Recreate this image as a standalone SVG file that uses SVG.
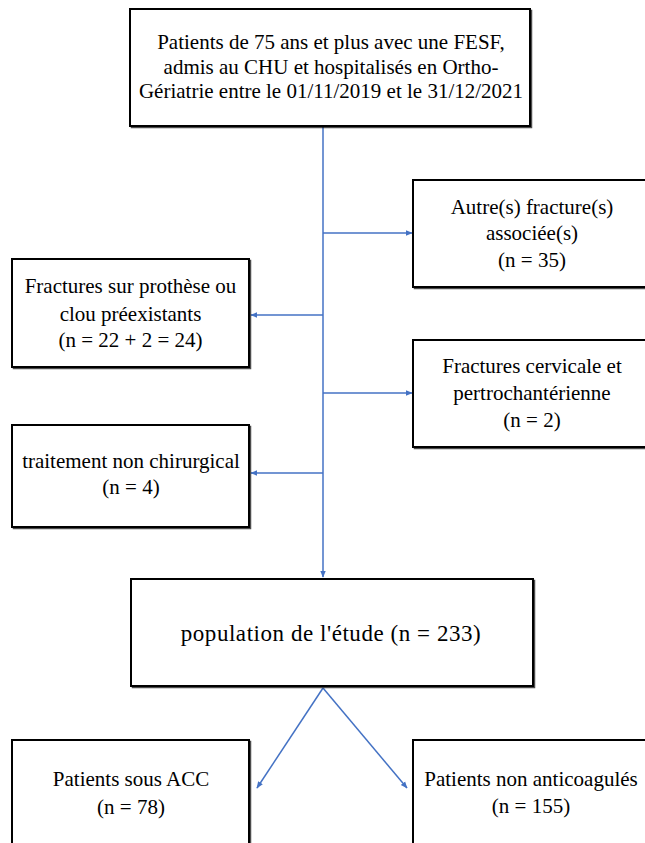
<svg xmlns="http://www.w3.org/2000/svg" width="645" height="843" viewBox="0 0 645 843">
<defs>
<style>
.box{fill:#fff;stroke:#000;stroke-width:2}
.shadow{fill:none;stroke:#000;stroke-width:1.5;opacity:0.7}
.t{font-family:'Liberation Serif','Times New Roman','DejaVu Serif',serif;font-size:21px;fill:#000;text-anchor:middle}
.c{stroke:#4472C4;stroke-width:1.5;fill:none}
</style>
<marker id="ah" viewBox="0 0 10 10" refX="9" refY="5" markerWidth="7" markerHeight="7" orient="auto" markerUnits="userSpaceOnUse">
<path d="M0,1 L10,5 L0,9 z" fill="#4472C4"/>
</marker>
</defs>
<rect width="645" height="843" fill="#fff"/>
<g id="connectors">
<line class="c" x1="323" y1="127" x2="323" y2="577" marker-end="url(#ah)"/>
<line class="c" x1="323" y1="233" x2="412" y2="233" marker-end="url(#ah)"/>
<line class="c" x1="323" y1="315" x2="251" y2="315" marker-end="url(#ah)"/>
<line class="c" x1="323" y1="393" x2="412" y2="393" marker-end="url(#ah)"/>
<line class="c" x1="323" y1="473" x2="251" y2="473" marker-end="url(#ah)"/>
<line class="c" x1="323" y1="688" x2="257" y2="788" marker-end="url(#ah)"/>
<line class="c" x1="323" y1="688" x2="407" y2="788" marker-end="url(#ah)"/>
</g>
<g id="n-top">
<rect class="shadow" x="131.5" y="10.5" width="400" height="117"/>
<rect class="box" x="130" y="9" width="400" height="117"/>
<text class="t" x="331" y="49">Patients de 75 ans et plus avec une FESF,</text>
<text class="t" x="331" y="74">admis au CHU et hospitalisés en Ortho-</text>
<text class="t" x="331" y="98">Gériatrie entre le 01/11/2019 et le 31/12/2021</text>
</g>
<g id="n-autre">
<rect class="shadow" x="414.5" y="181.5" width="240" height="107"/>
<rect class="box" x="413" y="180" width="240" height="107"/>
<text class="t" x="532" y="214">Autre(s) fracture(s)</text>
<text class="t" x="532" y="240">associée(s)</text>
<text class="t" x="532" y="267">(n = 35)</text>
</g>
<g id="n-prothese">
<rect class="shadow" x="13.5" y="260.5" width="237" height="108"/>
<rect class="box" x="12" y="259" width="237" height="108"/>
<text class="t" x="130.5" y="293">Fractures sur prothèse ou</text>
<text class="t" x="130.5" y="321">clou préexistants</text>
<text class="t" x="130.5" y="347">(n = 22 + 2 = 24)</text>
</g>
<g id="n-cervicale">
<rect class="shadow" x="414.5" y="341.5" width="240" height="107"/>
<rect class="box" x="413" y="340" width="240" height="107"/>
<text class="t" x="532" y="373">Fractures cervicale et</text>
<text class="t" x="532" y="400">pertrochantérienne</text>
<text class="t" x="532" y="427">(n = 2)</text>
</g>
<g id="n-traitement">
<rect class="shadow" x="13.5" y="426.5" width="237" height="102"/>
<rect class="box" x="12" y="425" width="237" height="102"/>
<text class="t" x="131" y="468">traitement non chirurgical</text>
<text class="t" x="131" y="494">(n = 4)</text>
</g>
<g id="n-population">
<rect class="shadow" x="132.5" y="580.5" width="402" height="107"/>
<rect class="box" x="131" y="579" width="402" height="107"/>
<text class="t" x="331" y="641" style="font-size:23px;letter-spacing:0.55px">population de l'étude (n = 233)</text>
</g>
<g id="n-acc">
<rect class="shadow" x="13.5" y="741.5" width="237" height="120"/>
<rect class="box" x="12" y="740" width="237" height="120"/>
<text class="t" x="131" y="786">Patients sous ACC</text>
<text class="t" x="131" y="814">(n = 78)</text>
</g>
<g id="n-nonacc">
<rect class="shadow" x="414.5" y="741.5" width="240" height="120"/>
<rect class="box" x="413" y="740" width="240" height="120"/>
<text class="t" x="531" y="786">Patients non anticoagulés</text>
<text class="t" x="531" y="813">(n = 155)</text>
</g>
</svg>
